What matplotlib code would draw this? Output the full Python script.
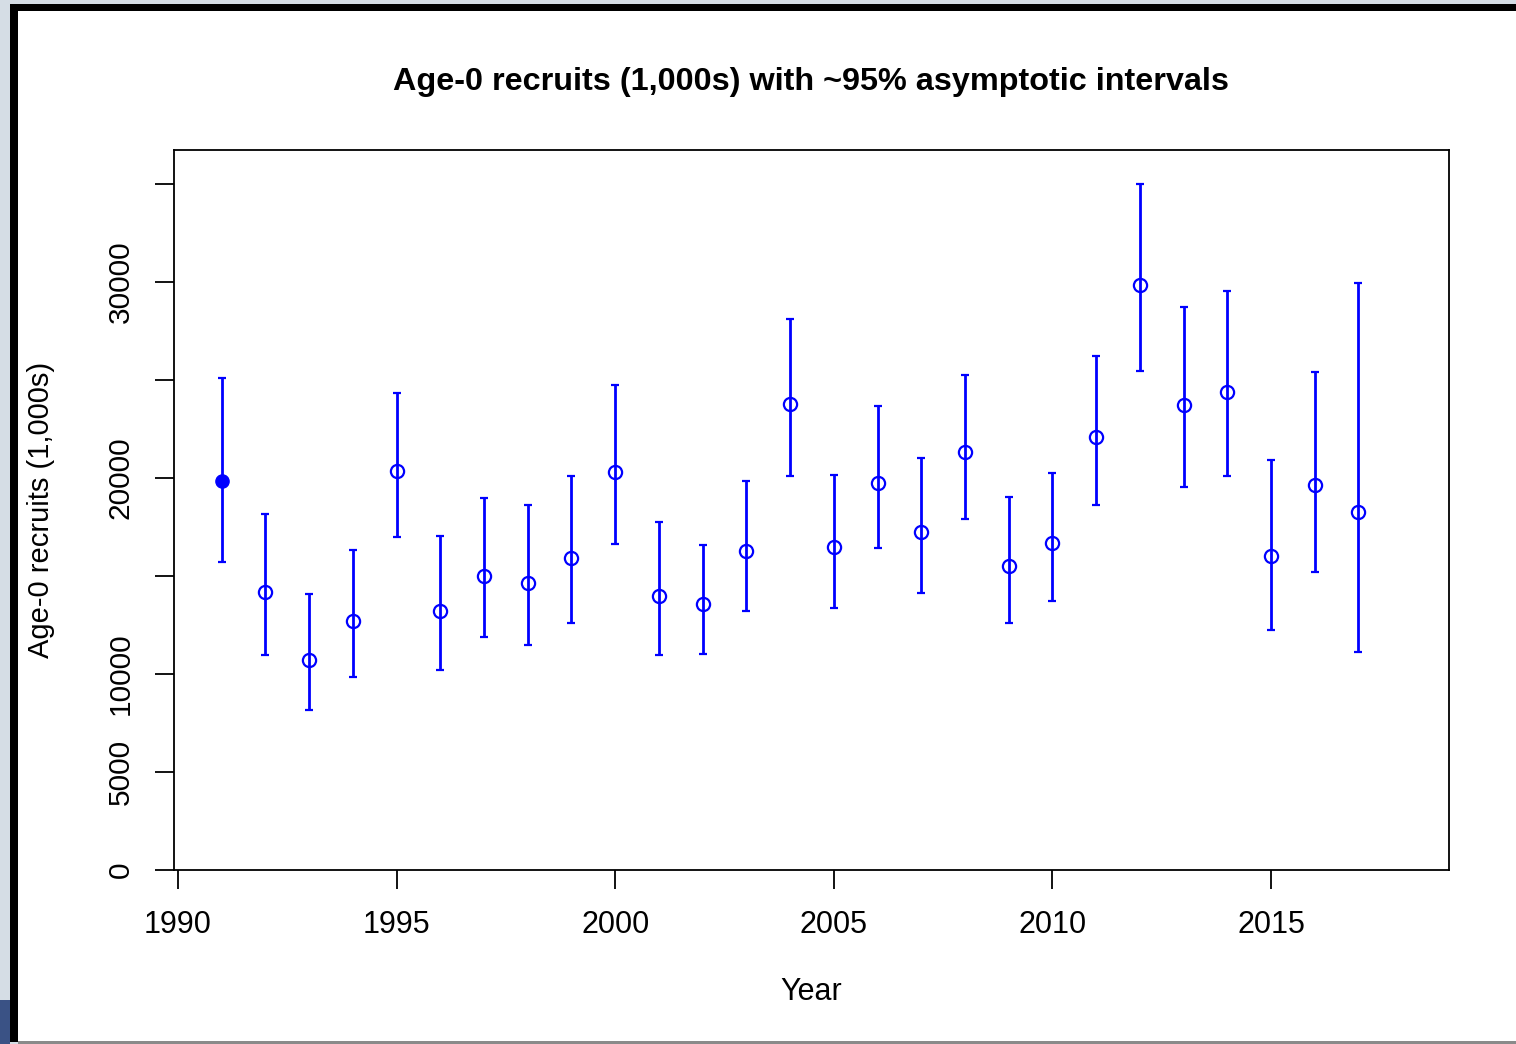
import matplotlib
matplotlib.use("Agg")
import matplotlib.pyplot as plt
from matplotlib.patches import Rectangle

years = [1991, 1992, 1993, 1994, 1995, 1996, 1997, 1998, 1999, 2000,
         2001, 2002, 2003, 2004, 2005, 2006, 2007, 2008, 2009, 2010,
         2011, 2012, 2013, 2014, 2015, 2016, 2017]
recruits = [19850, 14180, 10710, 12700, 20360, 13210, 15000, 14640, 15920, 20310,
            13980, 13570, 16280, 23780, 16480, 19750, 17250, 21330, 15510, 16680,
            22090, 29850, 23720, 24390, 16020, 19640, 18270]
upper = [25100, 18160, 14080, 16330, 24340, 17040, 18980, 18620, 20100, 24750,
         17760, 16580, 19850, 28110, 20150, 23670, 21020, 25260, 19030, 20260,
         26220, 35000, 28720, 29540, 20920, 25410, 29950]
lower = [15710, 10970, 8160, 9850, 16990, 10200, 11890, 11480, 12600, 16630,
         10970, 11020, 13210, 20100, 13370, 16430, 14130, 17910, 12600, 13720,
         18620, 25460, 19540, 20100, 12240, 15200, 11120]
xticks = [1990, 1995, 2000, 2005, 2010, 2015]
yticks = [0, 5000, 10000, 15000, 20000, 25000, 30000, 35000]
ytick_labels = ["0", "5000", "10000", "", "20000", "", "30000", ""]

plt.rcParams['font.family'] = ['Liberation Sans', 'DejaVu Sans']

W, H = 1516, 1044
fig = plt.figure(figsize=(W / 100, H / 100), dpi=100)
fig.patch.set_facecolor('#d5dde5')

def frect(x0, y0, x1, y1, color, z=-10):
    fig.patches.append(Rectangle((x0 / W, 1 - y1 / H), (x1 - x0) / W, (y1 - y0) / H,
                                 transform=fig.transFigure, facecolor=color,
                                 edgecolor='none', zorder=z))

frect(0, 1000, 10, H, '#3a5285')
frect(10, 4, W, 1042, 'black')
frect(18, 11, W, 1041, 'white')
frect(18, 1041, W, 1044, '#8a8a8a')

ax = fig.add_axes([174 / W, 1 - 870 / H, (1449 - 174) / W, 720 / H])
ax.set_zorder(5)
ax.set_facecolor('white')
ax.set_xlim(1989.91, 2019.07)
ax.set_ylim(0, 36735)

yerr_low = [r - l for r, l in zip(recruits, lower)]
yerr_up = [u - r for r, u in zip(recruits, upper)]
ax.errorbar(years, recruits, yerr=[yerr_low, yerr_up], fmt='none', ecolor='#0000ff',
            elinewidth=2.0, capsize=3, capthick=1.6, zorder=2)
ax.plot(years[1:], recruits[1:], 'o', mfc='none', mec='#0000ff', mew=1.6, ms=9.5, zorder=3)
ax.plot(years[:1], recruits[:1], 'o', mfc='#0000ff', mec='#0000ff', ms=9.5, zorder=3)

for s in ax.spines.values():
    s.set_linewidth(1.3)
    s.set_color('black')

ax.set_xticks(xticks)
ax.set_yticks(yticks)
ax.set_yticklabels(ytick_labels, rotation=90, va='center')
ax.tick_params(axis='both', direction='out', length=13.5, width=1.3, labelsize=22,
               colors='black')
ax.tick_params(axis='y', labelsize=21.5)
ax.tick_params(axis='x', pad=15)
ax.tick_params(axis='y', pad=15)

ax.set_xlabel('Year', fontsize=22, labelpad=27)
ax.set_ylabel('Age-0 recruits (1,000s)', fontsize=21, labelpad=37)
fig.text((174 + 1449) / 2 / W, 1 - 82 / H, 'Age-0 recruits (1,000s) with ~95% asymptotic intervals',
         ha='center', va='center', fontsize=23.3, fontweight='bold', zorder=6)

fig.savefig('out.png', dpi=100, facecolor=fig.get_facecolor())
